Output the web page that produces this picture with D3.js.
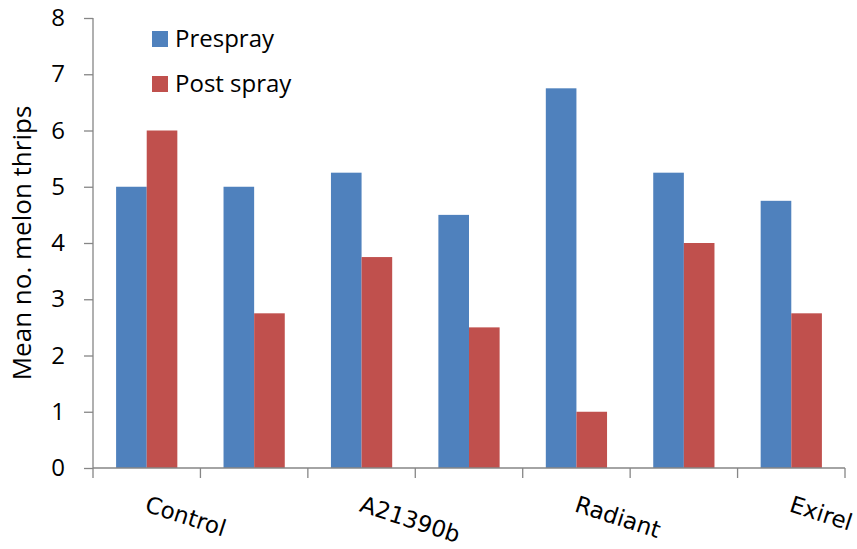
<!DOCTYPE html>
<html>
<head>
<meta charset="utf-8">
<script src="https://cdn.jsdelivr.net/npm/d3@7"></script>
<style>
  body { margin: 0; background: #fff; }
  text { font-family: "Open Sans", Lato, sans-serif; fill: #000; }
</style>
</head>
<body>
<div id="chart"></div>
<script>
// data
var categories = ["Control", "", "A21390b", "", "Radiant", "", "Exirel"];
var seriesNames = ["Prespray", "Post spray"];
var prespray = [5, 5, 5.25, 4.5, 6.75, 5.25, 4.75];
var postspray = [6, 2.75, 3.75, 2.5, 1, 4, 2.75];
var yTicks = [0, 1, 2, 3, 4, 5, 6, 7, 8];
var colors = ["#4F81BD", "#C0504D"];

var W = 857, H = 549;
var margin = {top: 18, right: 12, bottom: 81, left: 93},
    width = W - margin.left - margin.right,
    height = H - margin.top - margin.bottom;

var svg = d3.select("#chart")
  .append("svg")
    .attr("width", W)
    .attr("height", H)
  .append("g")
    .attr("transform", "translate(" + margin.left + "," + margin.top + ")");

var idx = d3.range(categories.length);

var x = d3.scaleBand()
    .domain(idx)
    .range([0, width])
    .paddingInner(0.43)
    .paddingOuter(0.215);

// band boundaries for the between-category ticks
var step = width / categories.length;

var xs = d3.scaleBand()
    .domain([0, 1])
    .range([0, x.bandwidth()]);

var y = d3.scaleLinear()
    .domain([0, 8])
    .range([height, 0]);

var series = [prespray, postspray];

// bars
series.forEach(function(vals, s) {
  svg.append("g")
    .selectAll("rect")
    .data(vals)
    .enter()
    .append("rect")
      .attr("x", function(d, i) { return x(i) + xs(s); })
      .attr("y", function(d) { return y(d); })
      .attr("width", xs.bandwidth())
      .attr("height", function(d) { return height - y(d); })
      .attr("fill", colors[s]);
});

// y axis
var yAxis = svg.append("g")
  .call(d3.axisLeft(y).tickValues(yTicks).tickSize(9).tickPadding(19));
yAxis.select(".domain").attr("stroke", "#868686").attr("stroke-width", 1.3).attr("d", "M0," + height + "V0");
yAxis.selectAll(".tick line").attr("stroke", "#868686").attr("stroke-width", 1.3);
yAxis.selectAll("text").style("font-size", "24px").attr("fill", "#000");

// x axis: line + ticks between categories
var xg = svg.append("g").attr("transform", "translate(0," + height + ")");
xg.append("line")
  .attr("x1", 0).attr("x2", width)
  .attr("stroke", "#868686").attr("stroke-width", 1.3);
xg.selectAll("line.tk")
  .data(d3.range(categories.length + 1))
  .enter()
  .append("line")
    .attr("class", "tk")
    .attr("x1", function(d) { return d * step; })
    .attr("x2", function(d) { return d * step; })
    .attr("y1", 0).attr("y2", 10)
    .attr("stroke", "#868686").attr("stroke-width", 1.3);

xg.selectAll("text")
  .data(idx.filter(function(i) { return categories[i] !== ""; }))
  .enter()
  .append("text")
    .attr("transform", function(i) {
      return "translate(" + (x(i) + x.bandwidth() / 2 - 3) + ",43) rotate(18)";
    })
    .style("font-family", "'DejaVu Sans', sans-serif")
    .style("font-size", "23px")
    .text(function(i) { return categories[i]; });

// y label
svg.append("text")
  .attr("transform", "translate(" + (-62) + "," + (height / 2) + ") rotate(-90)")
  .attr("text-anchor", "middle")
  .style("font-size", "26px")
  .text("Mean no. melon thrips");

// legend
var legend = svg.append("g").attr("transform", "translate(59,13)");
seriesNames.forEach(function(n, s) {
  var g = legend.append("g").attr("transform", "translate(0," + (s * 45) + ")");
  g.append("rect").attr("width", 16).attr("height", 16).attr("fill", colors[s]);
  g.append("text").attr("x", 23).attr("y", 16).style("font-size", "24px").text(n);
});
</script>
</body>
</html>
